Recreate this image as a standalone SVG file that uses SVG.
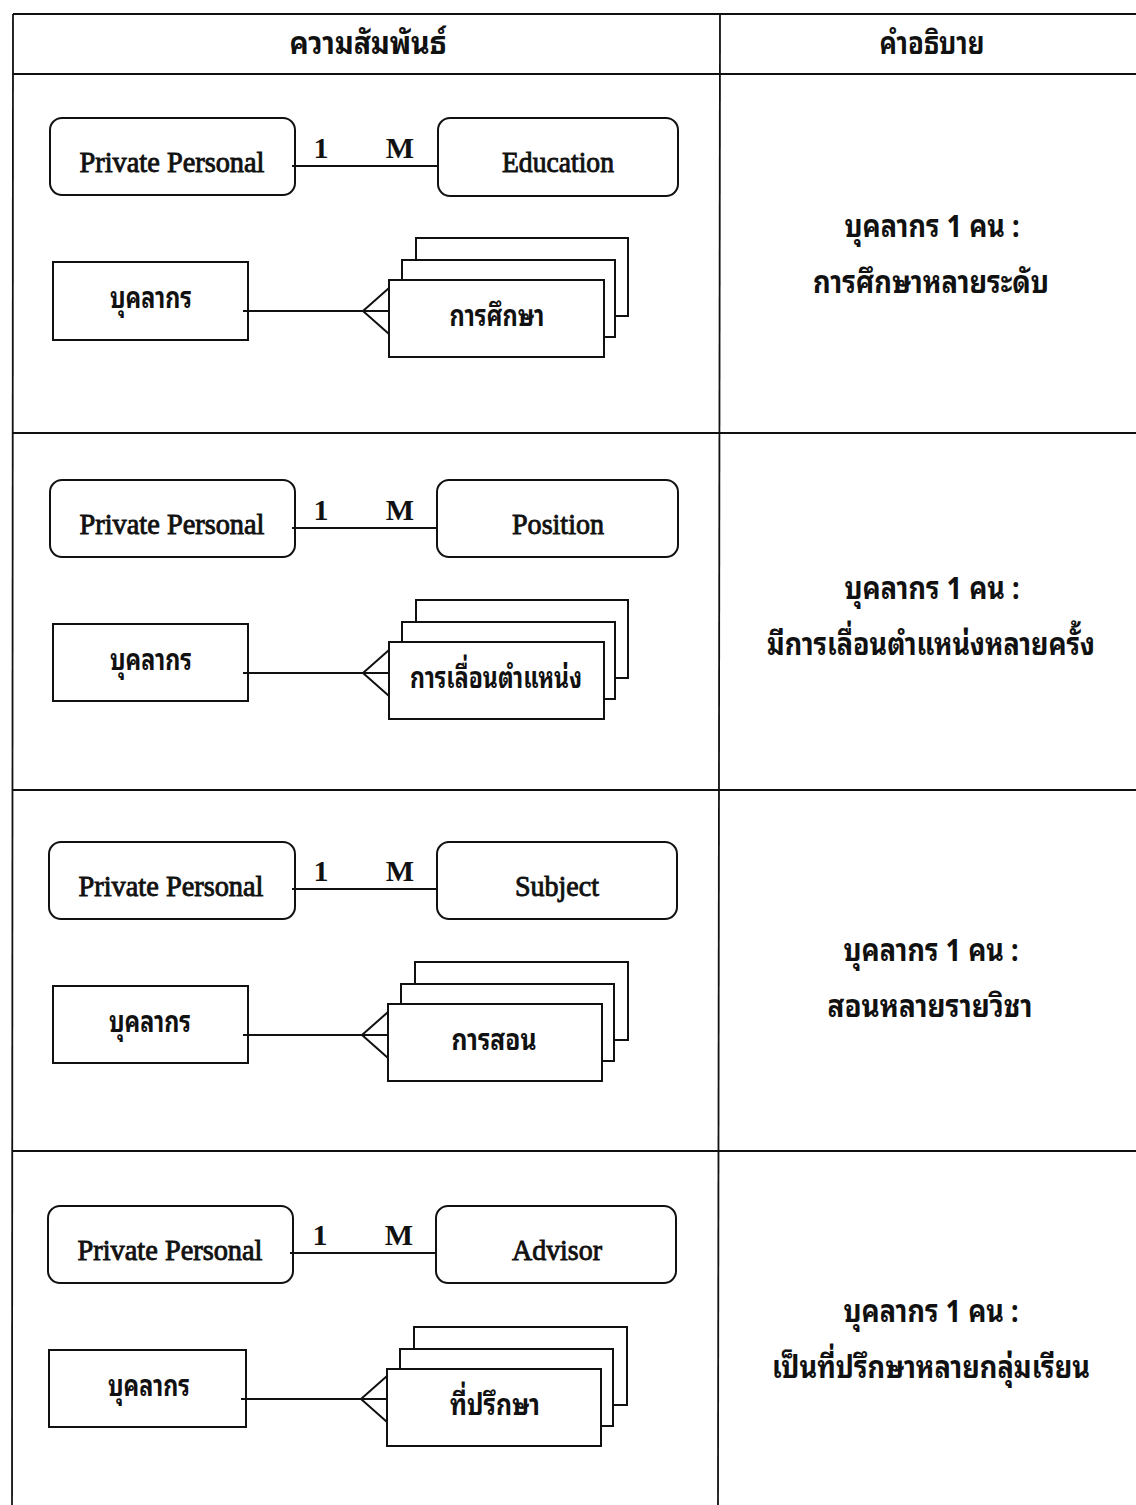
<svg xmlns="http://www.w3.org/2000/svg" width="1136" height="1505" viewBox="0 0 1136 1505">
<style>
.bg{fill:#ffffff}
.tbl{stroke:#111;stroke-width:1.8;fill:none}
.box{fill:#fff;stroke:#111;stroke-width:2}
.ln{stroke:#111;stroke-width:2;fill:none}
.en{font-family:"Liberation Serif","Times New Roman",serif;font-size:29px;fill:#111;stroke:#111;stroke-width:0.9;text-anchor:middle}
.card{font-family:"Liberation Serif","Times New Roman",serif;font-size:30px;font-weight:bold;fill:#111;text-anchor:middle}
.th{font-family:"Noto Sans Thai Looped","Noto Sans Thai","Noto Sans","DejaVu Sans",sans-serif;font-size:30px;font-weight:bold;fill:#111;text-anchor:middle}
.thd{font-family:"Noto Sans Thai Looped","Noto Sans Thai","Noto Sans","DejaVu Sans",sans-serif;font-size:31px;font-weight:bold;fill:#111;text-anchor:middle}
</style>
<rect class="bg" x="0" y="0" width="1136" height="1505"/>
<g id="table">
<line class="tbl" x1="13" y1="14" x2="1136" y2="14"/>
<line class="tbl" x1="13" y1="74" x2="1136" y2="74"/>
<line class="tbl" x1="13" y1="433" x2="1136" y2="433"/>
<line class="tbl" x1="13" y1="790" x2="1136" y2="790"/>
<line class="tbl" x1="13" y1="1151" x2="1136" y2="1151"/>
<line class="tbl" x1="13" y1="14" x2="12" y2="1505"/>
<line class="tbl" x1="720" y1="14" x2="718" y2="1505"/>
<text class="thd" x="368" y="54" textLength="157" lengthAdjust="spacingAndGlyphs">ความสัมพันธ์</text>
<text class="thd" x="932" y="54" textLength="105" lengthAdjust="spacingAndGlyphs">คำอธิบาย</text>
</g>

<!-- Row 1 -->
<g id="row1">
<g id="pp1"><rect class="box" x="50" y="118" width="245" height="77" rx="12"/><text class="en" x="172" y="172" textLength="185" lengthAdjust="spacingAndGlyphs">Private Personal</text></g>
<g id="education"><rect class="box" x="438" y="118" width="240" height="78" rx="12"/><text class="en" x="558" y="172" textLength="112" lengthAdjust="spacingAndGlyphs">Education</text></g>
<g id="staff1"><rect class="box" x="53" y="262" width="195" height="78"/><text class="th" x="151" y="308" textLength="82" lengthAdjust="spacingAndGlyphs">บุคลากร</text></g>
<g id="study"><rect class="box" x="416" y="238" width="212" height="78"/><rect class="box" x="402" y="260" width="213" height="77"/><rect class="box" x="389" y="280" width="215" height="77"/><text class="th" x="497" y="326" textLength="95" lengthAdjust="spacingAndGlyphs">การศึกษา</text></g>
<g id="desc1"><text class="thd" x="932" y="237" textLength="175" lengthAdjust="spacingAndGlyphs">บุคลากร 1 คน :</text><text class="thd" x="931" y="293" textLength="236" lengthAdjust="spacingAndGlyphs">การศึกษาหลายระดับ</text></g>
</g>

<!-- Row 2 -->
<g id="row2">
<g id="pp2"><rect class="box" x="50" y="480" width="245" height="77" rx="12"/><text class="en" x="172" y="534" textLength="185" lengthAdjust="spacingAndGlyphs">Private Personal</text></g>
<g id="position"><rect class="box" x="437" y="480" width="241" height="77" rx="12"/><text class="en" x="558" y="534" textLength="92" lengthAdjust="spacingAndGlyphs">Position</text></g>
<g id="staff2"><rect class="box" x="53" y="624" width="195" height="77"/><text class="th" x="151" y="670" textLength="82" lengthAdjust="spacingAndGlyphs">บุคลากร</text></g>
<g id="promotion"><rect class="box" x="416" y="600" width="212" height="78"/><rect class="box" x="402" y="622" width="213" height="77"/><rect class="box" x="389" y="642" width="215" height="77"/><text class="th" x="496" y="688" textLength="172" lengthAdjust="spacingAndGlyphs">การเลื่อนตำแหน่ง</text></g>
<g id="desc2"><text class="thd" x="932" y="599" textLength="175" lengthAdjust="spacingAndGlyphs">บุคลากร 1 คน :</text><text class="thd" x="931" y="655" font-size="28" textLength="328" lengthAdjust="spacingAndGlyphs">มีการเลื่อนตำแหน่งหลายครั้ง</text></g>
</g>

<!-- Row 3 -->
<g id="row3">
<g id="pp3"><rect class="box" x="49" y="842" width="246" height="77" rx="12"/><text class="en" x="171" y="896" textLength="185" lengthAdjust="spacingAndGlyphs">Private Personal</text></g>
<g id="subject"><rect class="box" x="437" y="842" width="240" height="77" rx="12"/><text class="en" x="557" y="896" textLength="84" lengthAdjust="spacingAndGlyphs">Subject</text></g>
<g id="staff3"><rect class="box" x="53" y="986" width="195" height="77"/><text class="th" x="150" y="1032" textLength="82" lengthAdjust="spacingAndGlyphs">บุคลากร</text></g>
<g id="teaching"><rect class="box" x="415" y="962" width="213" height="78"/><rect class="box" x="401" y="984" width="213" height="77"/><rect class="box" x="388" y="1004" width="214" height="77"/><text class="th" x="494" y="1050" textLength="85" lengthAdjust="spacingAndGlyphs">การสอน</text></g>
<g id="desc3"><text class="thd" x="931" y="961" textLength="175" lengthAdjust="spacingAndGlyphs">บุคลากร 1 คน :</text><text class="thd" x="930" y="1017" textLength="205" lengthAdjust="spacingAndGlyphs">สอนหลายรายวิชา</text></g>
</g>

<!-- Row 4 -->
<g id="row4">
<g id="pp4"><rect class="box" x="48" y="1206" width="245" height="77" rx="12"/><text class="en" x="170" y="1260" textLength="185" lengthAdjust="spacingAndGlyphs">Private Personal</text></g>
<g id="advisor"><rect class="box" x="436" y="1206" width="240" height="77" rx="12"/><text class="en" x="557" y="1260" textLength="90" lengthAdjust="spacingAndGlyphs">Advisor</text></g>
<g id="staff4"><rect class="box" x="49" y="1350" width="197" height="77"/><text class="th" x="149" y="1396" textLength="82" lengthAdjust="spacingAndGlyphs">บุคลากร</text></g>
<g id="advising"><rect class="box" x="414" y="1327" width="213" height="78"/><rect class="box" x="400" y="1349" width="213" height="77"/><rect class="box" x="387" y="1369" width="214" height="77"/><text class="th" x="495" y="1415" textLength="90" lengthAdjust="spacingAndGlyphs">ที่ปรึกษา</text></g>
<g id="desc4"><text class="thd" x="931" y="1322" textLength="175" lengthAdjust="spacingAndGlyphs">บุคลากร 1 คน :</text><text class="thd" x="931" y="1378" textLength="318" lengthAdjust="spacingAndGlyphs">เป็นที่ปรึกษาหลายกลุ่มเรียน</text></g>
</g>

<g id="connectors">
<line class="ln" x1="292" y1="166" x2="438" y2="166"/>
<text class="card" x="321" y="158">1</text><text class="card" x="400" y="158">M</text>
<line class="ln" x1="243" y1="311" x2="389" y2="311"/>
<polyline class="ln" points="389,288 363,311 389,334"/>

<line class="ln" x1="292" y1="528" x2="437" y2="528"/>
<text class="card" x="321" y="520">1</text><text class="card" x="400" y="520">M</text>
<line class="ln" x1="243" y1="673" x2="389" y2="673"/>
<polyline class="ln" points="389,650 363,673 389,696"/>

<line class="ln" x1="292" y1="889" x2="437" y2="889"/>
<text class="card" x="321" y="881">1</text><text class="card" x="400" y="881">M</text>
<line class="ln" x1="243" y1="1035" x2="388" y2="1035"/>
<polyline class="ln" points="388,1012 362,1035 388,1058"/>

<line class="ln" x1="290" y1="1253" x2="436" y2="1253"/>
<text class="card" x="320" y="1245">1</text><text class="card" x="399" y="1245">M</text>
<line class="ln" x1="241" y1="1399" x2="387" y2="1399"/>
<polyline class="ln" points="387,1376 361,1399 387,1422"/>
</g>
</svg>
